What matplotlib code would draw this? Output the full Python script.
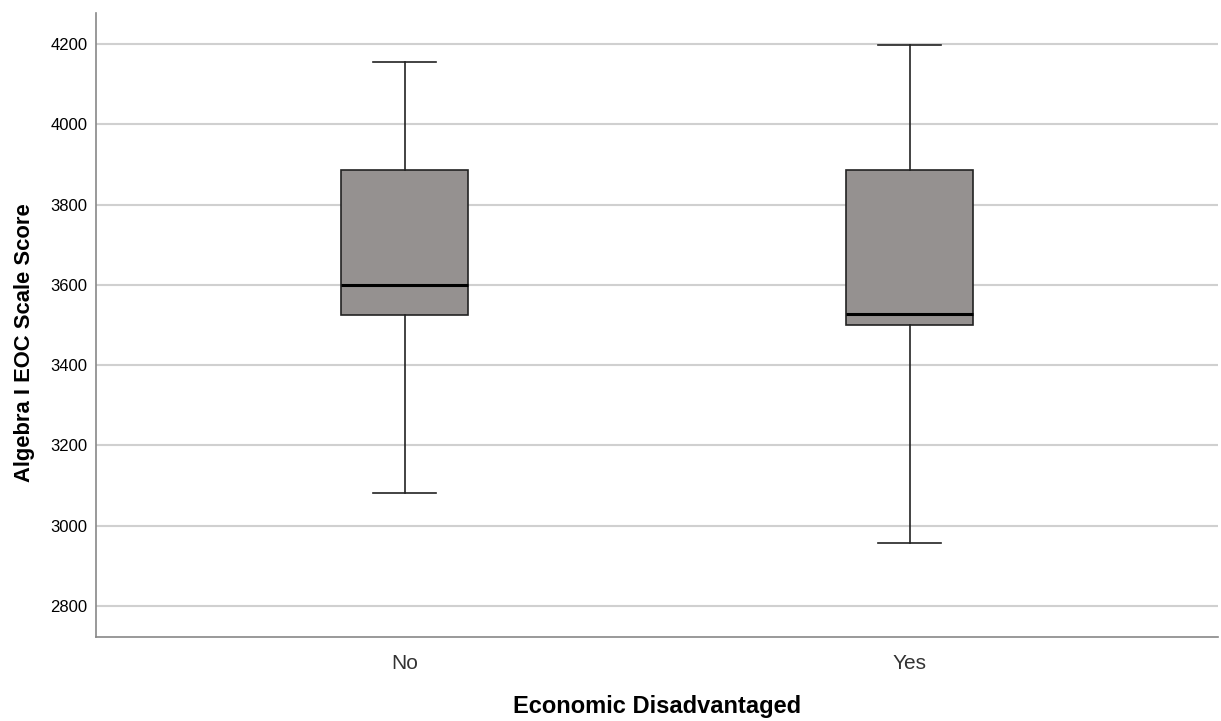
import matplotlib.pyplot as plt

plt.rcParams['font.family'] = ['Liberation Sans', 'DejaVu Sans']

# box plot summary
groups = ['No', 'Yes']
whisker_low = [3081, 2957]
q1 = [3525, 3500]
median = [3600, 3527]
q3 = [3886, 3886]
whisker_high = [4155, 4198]
yticks = [2800, 3000, 3200, 3400, 3600, 3800, 4000, 4200]

stats = []
for i, g in enumerate(groups):
    stats.append({'label': g, 'whislo': whisker_low[i], 'q1': q1[i], 'med': median[i],
                  'q3': q3[i], 'whishi': whisker_high[i], 'fliers': []})

fig = plt.figure(figsize=(12.21, 7.21), dpi=100)
ax = fig.add_axes([0.0786, 0.1165, 0.919, 0.8655])

ax.bxp(stats, positions=[1, 2], widths=0.25, capwidths=0.125, patch_artist=True,
       showfliers=False,
       boxprops=dict(facecolor='#959190', edgecolor='#222222', linewidth=1.2),
       medianprops=dict(color='black', linewidth=2.2),
       whiskerprops=dict(color='#222222', linewidth=1.2),
       capprops=dict(color='#222222', linewidth=1.2),
       zorder=3)

ax.set_xlim(0.389, 2.611)
ax.set_ylim(2723, 4277)
ax.set_yticks(yticks)
ax.yaxis.grid(True, color='#d0d0d0', linewidth=1.5, zorder=0)
ax.set_axisbelow(True)

for side in ['top', 'right']:
    ax.spines[side].set_visible(False)
for side in ['left', 'bottom']:
    ax.spines[side].set_color('#888888')
    ax.spines[side].set_linewidth(1.2)

ax.tick_params(axis='y', length=0, labelsize=12, pad=6)
ax.tick_params(axis='x', length=0, labelsize=15, pad=12, labelcolor='#333333')

ax.set_xlabel('Economic Disadvantaged', fontsize=17, fontweight='bold', labelpad=16)
ax.set_ylabel('Algebra I EOC Scale Score', fontsize=15.8, fontweight='bold')
ax.yaxis.set_label_coords(-0.054, 0.471)

fig.savefig('out.png', dpi=100)
